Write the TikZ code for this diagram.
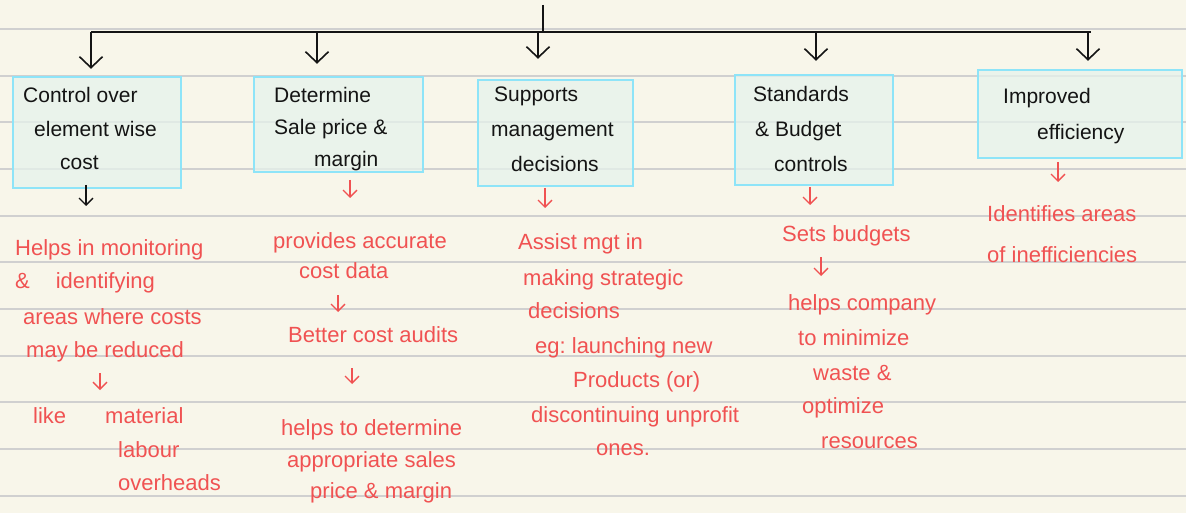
\documentclass[tikz,border=0pt]{standalone}
\usepackage{fontspec}
\setmainfont{Liberation Sans}
\usetikzlibrary{arrows.meta,calc}
\frenchspacing

\definecolor{paper}{RGB}{248,246,234}
\definecolor{ruling}{RGB}{208,208,208}
\definecolor{boxfill}{RGB}{230,242,236}
\definecolor{boxline}{RGB}{142,228,248}
\definecolor{ink}{RGB}{20,20,20}
\definecolor{redink}{RGB}{240,82,82}

\begin{document}
\begin{tikzpicture}[x=1pt,y=-1pt,
  card/.style={draw=boxline, line width=2.4pt, fill=boxfill, fill opacity=0.75, draw opacity=1, inner sep=0pt},
  headtxt/.style={anchor=base west, inner sep=0pt, text=ink, font=\fontsize{21}{25}\selectfont},
  note/.style={anchor=base west, inner sep=0pt, text=redink, font=\fontsize{22}{26}\selectfont},
  bar/.style={draw=ink, line width=2.2pt},
  branch/.style={draw=ink, line width=1.6pt, -{Straight Barb[length=11pt,width=23pt,line width=1.6pt]}},
  smallarrow/.style={draw=ink, line width=1.3pt, -{Straight Barb[length=7pt,width=14pt,line width=1.3pt]}},
  redarrow/.style={draw=redink, line width=1.3pt, -{Straight Barb[length=7pt,width=14pt,line width=1.3pt]}},
]
% paper and ruling
\useasboundingbox (0,0) rectangle (1186,513);
\fill[paper] (0,0) rectangle (1186,513);
\foreach \k in {0,...,10}
  \draw[ruling, line width=2pt] (0,{29+46.67*\k}) -- (1186,{29+46.67*\k});

% heading boxes
\node[card, minimum width=168pt, minimum height=111pt] (b1) at (97,132.5) {};
\node[card, minimum width=169pt, minimum height=95pt]  (b2) at (338.5,124.5) {};
\node[card, minimum width=155pt, minimum height=106pt] (b3) at (555.5,133) {};
\node[card, minimum width=158pt, minimum height=110pt] (b4) at (814,130) {};
\node[card, minimum width=204pt, minimum height=88pt]  (b5) at (1080,114) {};

% heading texts
\node[headtxt] (t11) at (23,103) {Control over};
\node[headtxt] (t12) at (34,137) {element wise};
\node[headtxt] (t13) at (60,170) {cost};
\node[headtxt] (t21) at (274,103) {Determine};
\node[headtxt] (t22) at (274,135) {Sale price \&};
\node[headtxt] (t23) at (314,167) {margin};
\node[headtxt] (t31) at (494,102) {Supports};
\node[headtxt] (t32) at (491,137) {management};
\node[headtxt] (t33) at (511,172) {decisions};
\node[headtxt] (t41) at (753,102) {Standards};
\node[headtxt] (t42) at (755,137) {\& Budget};
\node[headtxt] (t43) at (774,172) {controls};
\node[headtxt] (t51) at (1003,104) {Improved};
\node[headtxt] (t52) at (1037,140) {efficiency};

% tree: stem, bar and branches
\coordinate (stemtop) at (543,5);
\coordinate (stembot) at (543,32);
\coordinate (barL) at (91,32);
\coordinate (barR) at (1091,32);
\draw[bar] (stemtop) -- (stembot);
\draw[bar] (barL) -- (barR);
\coordinate (j1) at (91,32);
\coordinate (j2) at (317,32);
\coordinate (j3) at (538,32);
\coordinate (j4) at (816,32);
\coordinate (j5) at (1088,32);
\draw[branch, shorten >=7pt] (j1) -- (j1 |- b1.north);
\draw[branch, shorten >=12pt] (j2) -- (j2 |- b2.north);
\draw[branch, shorten >=20pt] (j3) -- (j3 |- b3.north);
\draw[branch, shorten >=13pt] (j4) -- (j4 |- b4.north);
\draw[branch, shorten >=8pt] (j5) -- (j5 |- b5.north);

% column 1
\node[note] (n11) at (15,255) {Helps in monitoring};
\node[note] (n12) at (15,288) {\&\hspace{26pt}identifying};
\node[note] (n13) at (23,324) {areas where costs};
\node[note] (n14) at (26,357) {may be reduced};
\node[note] (n15) at (33,423) {like};
\node[note] (n16) at (105,423) {material};
\node[note] (n17) at (118,457) {labour};
\node[note] (n18) at (118,490) {overheads};
\coordinate (a1a) at (86,185);
\coordinate (a1b) at (86,206);
\draw[smallarrow] (a1a) -- (a1b);
\coordinate (a1c) at (100,373);
\coordinate (a1d) at (100,390);
\draw[redarrow] (a1c) -- (a1d);

% column 2
\node[note] (n21) at (273,248) {provides accurate};
\node[note] (n22) at (299,278) {cost data};
\node[note] (n23) at (288,342) {Better cost audits};
\node[note] (n24) at (281,435) {helps to determine};
\node[note] (n25) at (287,467) {appropriate sales};
\node[note] (n26) at (310,498) {price \& margin};
\coordinate (a2a) at (350,180);
\coordinate (a2b) at (350,198);
\draw[redarrow] (a2a) -- (a2b);
\coordinate (a2c) at (338,295);
\coordinate (a2d) at (338,312);
\draw[redarrow] (a2c) -- (a2d);
\coordinate (a2e) at (352,368);
\coordinate (a2f) at (352,384);
\draw[redarrow] (a2e) -- (a2f);

% column 3
\node[note] (n31) at (518,249) {Assist mgt in};
\node[note] (n32) at (523,285) {making strategic};
\node[note] (n33) at (528,318) {decisions};
\node[note] (n34) at (535,353) {eg: launching new};
\node[note] (n35) at (573,387) {Products (or)};
\node[note] (n36) at (531,422) {discontinuing unprofit};
\node[note] (n37) at (596,455) {ones.};
\coordinate (a3a) at (545,188);
\coordinate (a3b) at (545,208);
\draw[redarrow] (a3a) -- (a3b);

% column 4
\node[note] (n41) at (782,242) {Sets budgets};
\node[note] (n42) at (788,310) {helps company};
\node[note] (n43) at (798,345) {to minimize};
\node[note] (n44) at (813,380) {waste \&};
\node[note] (n45) at (802,413) {optimize};
\node[note] (n46) at (821,448) {resources};
\coordinate (a4a) at (810,187);
\coordinate (a4b) at (810,205);
\draw[redarrow] (a4a) -- (a4b);
\coordinate (a4c) at (821,257);
\coordinate (a4d) at (821,276);
\draw[redarrow] (a4c) -- (a4d);

% column 5
\node[note] (n51) at (987,222) {Identifies areas};
\node[note] (n52) at (987,262) {of inefficiencies};
\coordinate (a5a) at (1058,162);
\coordinate (a5b) at (1058,182);
\draw[redarrow] (a5a) -- (a5b);
\end{tikzpicture}
\end{document}
